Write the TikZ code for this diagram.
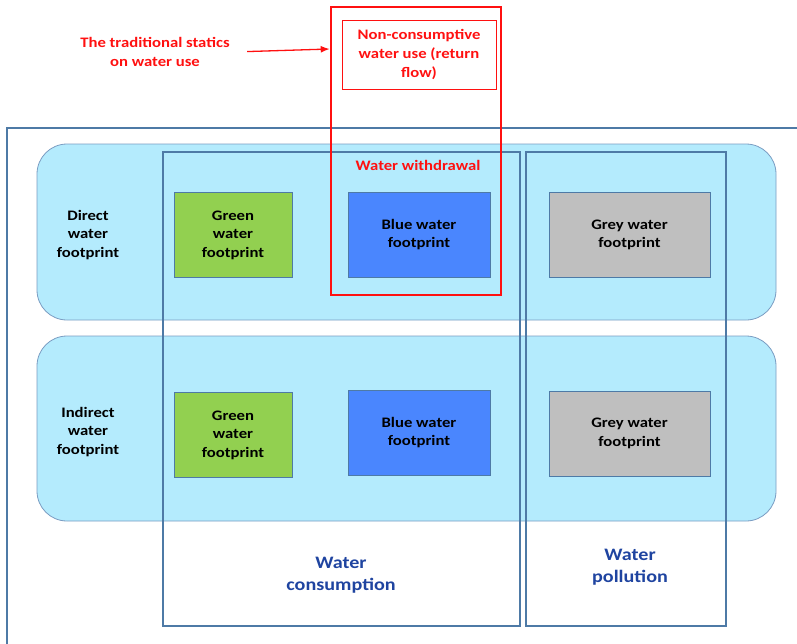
\documentclass[tikz,border=0pt]{standalone}
\usepackage{fontspec}
\setmainfont{Carlito}[FakeStretch=1.15]
\usetikzlibrary{arrows.meta,positioning}
\definecolor{steel}{HTML}{4E7AA6}
\definecolor{rowline}{HTML}{7A9CC2}
\definecolor{aqua}{HTML}{B4EBFD}
\definecolor{leaf}{HTML}{92D050}
\definecolor{sky}{HTML}{4A86FE}
\definecolor{ash}{HTML}{BFBFBF}
\definecolor{ink}{HTML}{1F44A0}
\definecolor{alert}{HTML}{FF1010}

\begin{document}
\begin{tikzpicture}[
  x=1pt,y=-1pt,
  >=Latex,
  row/.style={draw=rowline,thick,fill=aqua,rounded corners=30pt,
              minimum width=739pt,inner sep=0pt},
  column/.style={draw=steel,line width=2.4pt,minimum width=#1,
                 minimum height=474pt,inner sep=0pt},
  fp/.style={draw=steel,line width=0.8pt,minimum height=85pt,inner sep=0pt,
             align=center,font=\fontsize{14.5}{18.5}\selectfont\bfseries},
  rowlabel/.style={align=center,font=\fontsize{14.5}{18.5}\selectfont\bfseries},
  colname/.style={align=center,text=ink,font=\fontsize{17.5}{22}\selectfont\bfseries},
  rednote/.style={align=center,text=alert,font=\fontsize{14.5}{19}\selectfont\bfseries}
]
\useasboundingbox (0,0) rectangle (797,643);
\clip (0,0) rectangle (797,643);

% outer frame
\draw[steel,line width=2pt] (7,660) -- (7,128) -- (820,128);

% rows
\node[row,minimum height=176pt] (direct) at (406.5,232) {};
\node[row,minimum height=185pt] (indirect) at (406.5,428.5) {};

% columns
\node[column=357pt] (consumption) at (341.5,389) {};
\node[column=200pt] (pollution) at (626,389) {};

% withdrawal and return flow
\node[draw=alert,line width=2.6pt,minimum width=170pt,minimum height=288pt,
      inner sep=0pt] (withdrawal) at (416,151) {};
\node[draw=alert,line width=0.8pt,minimum width=154pt,minimum height=69pt,
      inner sep=0pt,rednote] (returnflow) at (419,54.5)
      {Non-consumptive\\water use (return\\flow)};
\node[rednote] (withdrawaltxt) at (418,165) {Water withdrawal};
\node[rednote] (statics) at (155,52) {The traditional statics\\on water use};
\draw[-{Latex[length=9pt,width=7pt]},alert,line width=1.3pt,shorten <=14pt]
  (statics.east) -- ([yshift=3pt]statics.east -| withdrawal.west);

% footprints
\node[fp,fill=leaf,minimum width=118pt] (green1) at (233,235) {Green\\water\\footprint};
\node[fp,fill=sky,minimum width=142pt] (blue1) at (419,234.5) {\raisebox{2pt}{Blue water}\\\raisebox{2pt}{footprint}};
\node[fp,fill=ash,minimum width=161pt] (grey1) at (629.5,235) {Grey water\\footprint};
\node[fp,fill=leaf,minimum width=118pt] (green2) at (233,435) {Green\\water\\footprint};
\node[fp,fill=sky,minimum width=142pt] (blue2) at (419,432.5) {Blue water\\footprint};
\node[fp,fill=ash,minimum width=161pt] (grey2) at (629.5,433.5) {Grey water\\footprint};

% labels
\node[rowlabel] (directtxt) at (88,235) {Direct\\water\\footprint};
\node[rowlabel] (indirecttxt) at (88,432) {Indirect\\water\\footprint};
\node[colname] (consumptiontxt) at (341,575) {Water\\consumption};
\node[colname] (pollutiontxt) at (630,567) {Water\\pollution};
\end{tikzpicture}
\end{document}
